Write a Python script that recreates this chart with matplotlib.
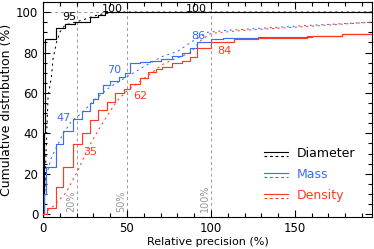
import matplotlib
matplotlib.use("Agg")
import matplotlib.pyplot as plt
from matplotlib.ticker import MultipleLocator

# Solid (step) curves
diam_x = [0, 0.6, 1.2, 7.7, 13, 19, 28, 33, 37, 196]
diam_y = [0, 40, 86.5, 92, 94, 95, 97.5, 98.8, 100, 100]
mass_x = [0, 0.8, 1.5, 8, 12, 17.7, 23, 28, 30, 33, 36, 40, 45, 49, 52, 58, 64, 70, 77, 83, 87.5, 92, 100, 107, 128, 160, 178, 196]
mass_y = [0, 10, 23.5, 34.5, 41, 47, 51, 55, 57, 60, 64, 66, 68, 70, 74.8, 75.5, 76, 77, 78.5, 80, 82, 85, 86.5, 87, 87.8, 88.2, 89, 89]
dens_x = [0, 2.6, 8, 12, 17.7, 23, 28, 33, 38, 43, 48, 52, 58, 62.5, 67, 71, 77, 82.5, 87.5, 92, 100, 114, 128, 157, 178, 196]
dens_y = [0, 3, 13.5, 23.5, 34.5, 40, 46.5, 51.5, 55.6, 60, 62, 64.5, 67.3, 70.4, 72, 73, 75, 76, 78, 82, 85.3, 86.5, 87, 88, 89, 89]

# Dashed curves
diamd_x = [0, 1, 2, 3, 5, 6, 8, 10, 13, 17, 20, 25, 30, 35, 40, 45, 196]
diamd_y = [0, 10, 35, 58, 68, 77, 85, 90, 93.5, 94.5, 95.2, 96.5, 98, 99, 99.6, 100, 100]
massd_x = [0, 2, 5, 12, 17, 23, 30, 40, 50, 60, 71, 80, 88, 98, 110, 130, 160, 196]
massd_y = [5, 19, 28, 40, 46, 50, 56, 63, 68, 73, 78, 80.5, 85, 90, 91, 92, 93.5, 95]
densd_x = [0, 7, 14, 21, 27, 34, 40, 45, 50, 60, 71, 79, 88, 94, 100, 120, 150, 196]
densd_y = [0, 4.5, 11, 22, 33, 43, 51, 57, 61, 67, 74, 77, 80, 86, 89.5, 91, 92.5, 95]

ref_lines = [20, 50, 100]
ref_labels = ["20%", "50%", "100%"]

ann_text = ["95", "100", "100", "47", "70", "86", "35", "62", "84"]
ann_x = [15.5, 41.5, 91.5, 12, 42.5, 92.5, 28, 57.7, 108]
ann_y = [97.5, 101.5, 101.5, 47.8, 71.3, 88, 31, 58.4, 80.7]
ann_col = ["k", "k", "k", "b", "b", "b", "r", "r", "r"]

legend_names = ["Diameter", "Mass", "Density"]

BLUE = "#3a6cf4"
RED = "#ff3a22"
cmap = {"k": "black", "b": BLUE, "r": RED}

fig = plt.figure(figsize=(3.74, 2.49), dpi=100)
ax = fig.add_axes([0.115, 0.127, 0.88, 0.865])

gray = "#999999"
for v in ref_lines:
    ax.axvline(v, color=gray, lw=0.7, ls=(0, (3, 3)), zorder=1)
ax.axhline(100, color=gray, lw=0.7, ls=(0, (3, 3)), zorder=1)
for v, lab in zip(ref_lines, ref_labels):
    ax.text(v - 0.3, 1, lab, rotation=90, ha="right", va="bottom",
            color=gray, fontsize=7)

dash = (0, (2, 3.5))
ax.plot(diamd_x, diamd_y, color="black", lw=0.75, ls=dash, zorder=2)
ax.plot(massd_x, massd_y, color=BLUE, lw=0.75, ls=dash, zorder=2)
ax.plot(densd_x, densd_y, color=RED, lw=0.75, ls=dash, zorder=2)

ax.step(diam_x, diam_y, where="post", color="black", lw=0.85, zorder=3)
ax.step(mass_x, mass_y, where="post", color=BLUE, lw=0.85, zorder=3)
ax.step(dens_x, dens_y, where="post", color=RED, lw=0.85, zorder=3)

for t, x, y, c in zip(ann_text, ann_x, ann_y, ann_col):
    ax.text(x, y, t, color=cmap[c], fontsize=8, ha="center", va="center", zorder=4)

# legend drawn manually
leg_cols = ["black", BLUE, RED]
for i, (name, c) in enumerate(zip(legend_names, leg_cols)):
    yy = 0.295 - i * 0.097
    ax.plot([0.67, 0.745], [yy + 0.008, yy + 0.008], transform=ax.transAxes, color=c, lw=0.8)
    ax.plot([0.67, 0.745], [yy - 0.010, yy - 0.010], transform=ax.transAxes, color=c, lw=0.8, ls=(0, (2.5, 2.5)))
    ax.text(0.77, yy, name, transform=ax.transAxes, color=c, fontsize=9, va="center", ha="left")

ax.set_xlim(0, 196)
ax.set_ylim(-1.6, 105)
ax.xaxis.set_major_locator(MultipleLocator(50))
ax.xaxis.set_minor_locator(MultipleLocator(10))
ax.yaxis.set_major_locator(MultipleLocator(20))
ax.yaxis.set_minor_locator(MultipleLocator(5))
ax.tick_params(which="both", direction="in", top=True, right=True, labelsize=8.5, width=0.8)
ax.tick_params(which="major", length=5)
ax.tick_params(which="minor", length=3)
for s in ax.spines.values():
    s.set_linewidth(0.8)
ax.set_xlabel("Relative precision (%)", fontsize=8, labelpad=1)
ax.set_ylabel("Cumulative distribution (%)", fontsize=9, labelpad=2)

fig.savefig("out.png", dpi=100)
